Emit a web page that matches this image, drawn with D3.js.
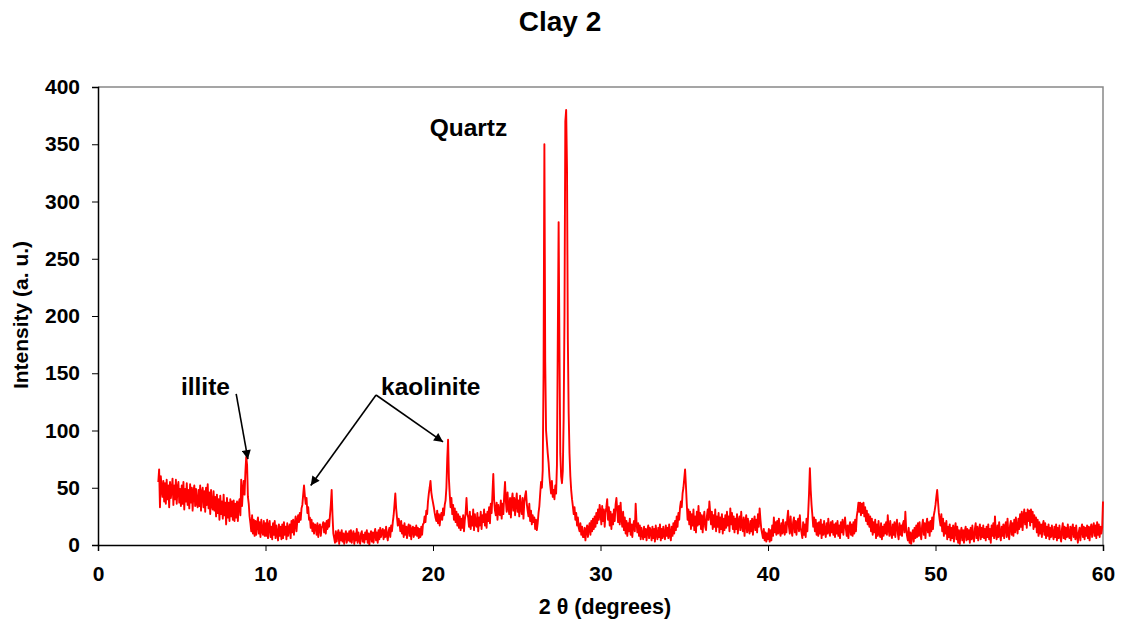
<!DOCTYPE html>
<html><head><meta charset="utf-8">
<script src="https://cdn.jsdelivr.net/npm/d3@7"></script>
<style>
html,body{margin:0;padding:0;background:#fff;}
svg text{font-family:"Liberation Sans",Arial,sans-serif;font-weight:bold;fill:#000;}
</style></head>
<body>
<svg id="chart" width="1123" height="628"></svg>
<script>
// ---- data ----
const chartTitle = "Clay 2";
const xAxisTitle = "2 \u03b8 (degrees)";
const yAxisTitle = "Intensity (a. u.)";
const xTicks = [0, 10, 20, 30, 40, 50, 60];
const yTicks = [0, 50, 100, 150, 200, 250, 300, 350, 400];
const angleStart = 3.6;   // first measured 2θ
const angleStep = 0.05;   // instrument step
// intensity per step, rows grouped by degree
const intensity = [
 55,66,33,60,50,42,56,38,
 54,36,57,40,52,33,55,41,49,58,35,52,40,57,36,50,55,37,49,34,
 52,36,55,31,49,38,54,35,48,32,53,37,50,30,47,52,34,49,36,33,
 48,34,52,30,46,50,33,47,29,50,35,53,32,46,27,48,34,31,47,30,
 42,25,44,28,40,22,43,27,38,23,44,26,37,18,41,24,37,21,40,25,
 38,22,39,21,36,24,38,21,36,40,26,57,34,48,56,44,64,77,70,42,
 36,25,19,12,26,10,22,8,21,9,19,24,10,20,7,22,12,9,21,8,
 19,8,22,6,17,21,7,16,5,19,9,21,6,17,10,4,18,8,16,5,
 18,6,20,9,16,5,19,8,15,18,6,21,11,22,9,19,25,12,21,26,
 20,28,22,32,35,44,52,43,36,41,28,33,22,24,15,22,12,19,10,18,
 17,9,19,7,16,18,8,15,17,20,11,19,10,21,14,22,16,26,35,48,
 26,10,6,2,12,3,9,13,1,11,4,13,3,10,1,9,12,2,10,4,
 12,3,13,2,9,12,1,10,4,14,2,11,5,1,10,12,3,9,2,11,
 5,13,2,10,0,9,12,3,11,2,10,14,4,11,2,13,5,15,7,12,
 14,5,13,7,16,8,4,12,15,7,17,12,20,26,35,45,32,24,17,23,
 19,12,21,10,17,7,19,9,16,6,15,18,8,17,5,14,16,7,15,9,
 17,8,15,6,14,7,16,9,18,19,25,20,30,27,38,45,50,56,46,41,
 37,33,28,24,21,30,19,27,17,25,28,22,32,26,35,39,50,75,92,58,
 44,33,41,27,35,22,32,20,29,17,27,15,25,13,23,15,26,12,22,28,
 41,27,24,16,29,14,25,17,31,13,27,18,16,28,12,24,17,29,14,26,
 20,31,17,27,15,29,21,33,19,36,28,45,62,39,30,26,37,22,35,27,
 26,39,23,36,27,43,55,38,29,46,33,27,41,24,39,45,30,41,26,37,
 45,29,39,25,43,32,27,41,23,37,43,47,36,30,25,36,21,30,18,26,
 20,24,14,22,13,19,28,34,45,55,50,65,150,350,160,100,90,80,72,60,
 52,45,56,42,48,40,52,45,70,180,282,170,80,60,54,65,110,200,370,380,
 330,180,115,80,60,48,40,34,27,33,22,28,17,24,15,12,19,9,16,7,
 7,15,4,13,17,7,15,19,9,21,12,23,14,25,16,28,19,31,22,35,
 28,18,34,21,31,16,28,33,40,22,33,17,29,14,27,18,31,21,35,41,
 30,20,34,18,37,23,16,29,13,24,10,21,8,19,12,23,9,18,7,17,
 21,12,36,20,11,19,8,17,5,15,9,5,16,7,14,4,13,17,6,15,
 12,4,16,6,14,3,17,9,5,15,7,18,4,14,6,16,9,5,17,8,
 15,6,18,9,4,16,8,19,10,21,13,25,16,28,22,33,38,33,45,50,
 58,66,52,36,22,31,18,29,14,27,17,31,13,25,11,29,17,34,18,28,
 14,26,11,23,29,16,13,25,31,22,38,28,18,29,14,26,16,31,12,25,
 16,28,11,24,14,27,10,23,13,26,15,29,17,25,12,32,18,28,14,25,
 11,23,14,27,10,21,25,13,29,17,12,24,8,20,26,11,23,14,10,21,
 12,23,9,20,25,13,22,11,27,16,32,22,14,10,6,14,4,11,3,10,
 5,14,3,13,4,17,8,24,11,20,9,21,10,23,12,8,19,10,22,12,
 9,20,11,23,30,16,10,25,13,8,20,24,11,21,9,19,23,12,26,15,
 11,6,20,9,18,7,23,12,28,45,67,48,35,26,16,24,12,22,9,19,
 8,20,10,22,6,18,9,21,11,7,19,10,23,12,8,20,11,21,9,18,
 7,19,10,21,8,17,6,20,11,22,9,18,24,14,8,17,6,16,20,9,
 18,8,20,10,22,12,25,30,37,29,37,26,36,28,37,25,33,21,30,18,
 27,16,25,12,23,9,20,11,22,6,18,8,21,10,7,19,5,16,8,18,
 10,20,9,26,14,8,21,11,6,18,9,20,7,17,22,10,5,19,9,17,
 8,18,21,11,29,14,8,4,15,2,11,1,9,13,3,15,6,17,7,19,
 8,20,10,5,17,22,9,19,6,18,23,11,20,8,21,12,24,14,26,30,
 35,42,48,38,28,22,17,27,12,23,8,19,10,21,5,16,7,18,4,15,
 6,17,3,14,19,5,16,2,13,1,11,15,4,13,2,12,16,4,14,5,
 13,2,15,5,17,7,3,14,19,6,16,4,13,18,5,15,7,17,6,14,
 4,16,7,18,5,14,2,17,8,19,6,25,10,5,17,7,20,9,4,16,
 8,18,6,16,20,7,23,10,5,17,21,9,19,8,22,11,24,15,10,23,
 14,27,16,29,13,25,31,18,28,15,31,21,30,17,31,20,29,14,26,16,
 24,11,22,8,20,10,18,7,17,21,9,19,6,16,8,18,5,15,7,17,
 9,5,16,7,18,4,15,6,17,8,3,14,19,6,16,5,15,7,18,8,
 6,16,4,14,18,7,15,5,17,8,2,11,15,4,14,18,7,16,5,15,
 8,17,6,16,4,14,18,7,15,19,8,17,6,20,9,18,7,16,10,15,
 38
];
// annotations: label, anchor of text, arrows [from, to] in data units
const annoLabels = ["Quartz", "illite", "kaolinite"];
const annoAt = [[19.8, 357], [4.95, 131], [16.9, 131]];
const annoArrows = [
  [[8.25, 132], [8.95, 75]],
  [[16.6, 131], [12.7, 52]],
  [[16.6, 131], [20.6, 90]]
];

// ---- drawing ----
const svg = d3.select("#chart");
const L = 98, R = 1103, T = 87, B = 545;
const x = d3.scaleLinear().domain([0, 60]).range([L, R]);
const y = d3.scaleLinear().domain([0, 400]).range([B, T]);

const defs = svg.append("defs");
defs.append("marker").attr("id","ah").attr("viewBox","0 0 10 10")
  .attr("refX",10).attr("refY",5).attr("markerWidth",11).attr("markerHeight",9)
  .attr("markerUnits","userSpaceOnUse").attr("orient","auto")
  .append("path").attr("d","M0,0 L10,5 L0,10 Z").attr("fill","#000");

// frame (top and right, gray)
svg.append("path").attr("d", `M${L},${T}H${R}V${B}`)
  .attr("fill","none").attr("stroke","#888").attr("stroke-width",1.5);

const pts = intensity.map((v, i) => [angleStart + i * angleStep, v]);
svg.append("path").datum(pts)
  .attr("fill","none").attr("stroke","#ff0000").attr("stroke-width",1.9)
  .attr("stroke-linejoin","round")
  .attr("d", d3.line().x(d => x(d[0])).y(d => y(d[1])));

const xAxis = svg.append("g").attr("transform",`translate(0,${B})`)
  .call(d3.axisBottom(x).tickValues(xTicks).tickSize(6).tickPadding(15).tickFormat(d3.format("d")));
const yAxis = svg.append("g").attr("transform",`translate(${L},0)`)
  .call(d3.axisLeft(y).tickValues(yTicks).tickSize(6).tickPadding(12).tickFormat(d3.format("d")));
[xAxis, yAxis].forEach(g => {
  g.select(".domain").attr("stroke","#000").attr("stroke-width",1.5);
  g.selectAll(".tick line").attr("stroke","#000").attr("stroke-width",1);
  g.selectAll(".tick text").attr("font-size",21).attr("font-family",null).attr("fill","#000");
});

svg.append("text").attr("x",560).attr("y",31).attr("text-anchor","middle")
  .attr("font-size",28).text(chartTitle);
svg.append("text").attr("x",605).attr("y",614).attr("text-anchor","middle")
  .attr("font-size",21.5).text(xAxisTitle);
svg.append("text").attr("transform","translate(28,315) rotate(-90)").attr("text-anchor","middle")
  .attr("font-size",21).text(yAxisTitle);

annoLabels.forEach((t, i) => {
  svg.append("text").attr("x", x(annoAt[i][0])).attr("y", y(annoAt[i][1]))
    .attr("font-size",24.5).text(t);
});
annoArrows.forEach(a => {
  svg.append("line").attr("x1", x(a[0][0])).attr("y1", y(a[0][1]))
    .attr("x2", x(a[1][0])).attr("y2", y(a[1][1]))
    .attr("stroke","#000").attr("stroke-width",1.6).attr("marker-end","url(#ah)");
});
</script>
</body></html>
